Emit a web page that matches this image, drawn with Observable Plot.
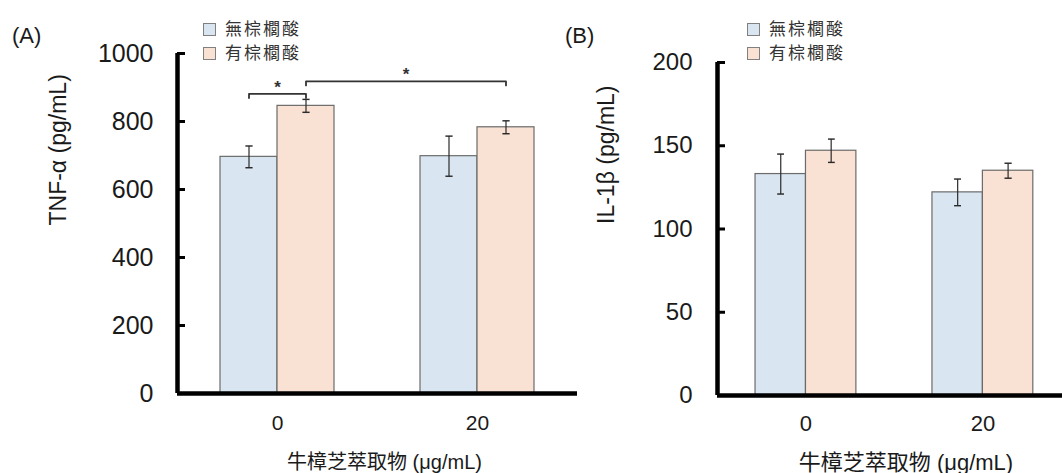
<!DOCTYPE html>
<html><head><meta charset="utf-8">
<script src="https://cdn.jsdelivr.net/npm/d3@7"></script>
<script src="https://cdn.jsdelivr.net/npm/@observablehq/plot@0.6"></script>
<style>
body{margin:0;background:#fff;overflow:hidden}
#wrap{position:relative;width:1062px;height:473px;font-family:"Liberation Sans",Arial,sans-serif;color:#1a1a1a}
.pnl{position:absolute;top:0}
.tag{position:absolute;font-size:22px;line-height:22px;color:#1a1a1a}
.leg{position:absolute;top:16px;font-family:"Noto Sans CJK TC",sans-serif;font-size:17px;letter-spacing:2px;color:#333;line-height:24px}
.sw{display:inline-block;width:11px;height:11px;border:1px solid #808080;margin-right:9px;vertical-align:-1px}
</style></head><body><div id="wrap"></div>
<script>
// ---- data ----
const doses = ["0", "20"];
const seriesNames = ["無棕櫚酸", "有棕櫚酸"];
const seriesColors = ["#dae5f2", "#f9e1d3"];
const xLabel = "牛樟芝萃取物 (μg/mL)";

const tnfNoPA = [696, 698];
const tnfNoPAErr = [32, 59];
const tnfPA = [846, 783];
const tnfPAErr = [19, 19];
const tnfTicks = [0, 200, 400, 600, 800, 1000];

const il1bNoPA = [133, 122];
const il1bNoPAErr = [12, 8];
const il1bPA = [147, 135];
const il1bPAErr = [7, 4.5];
const il1bTicks = [0, 50, 100, 150, 200];

// significance brackets for panel A: [dose index, series] endpoints, height
const sigFrom = [[0, 0], [0, 1]];
const sigTo = [[0, 1], [1, 1]];
const sigLevel = [881, 918];
const sigText = ["*", "*"];

const wrap = document.getElementById("wrap");
const BW = 0.285; // bar width in group units

function rowsFrom(a, ae, b, be) {
  const rows = [];
  doses.forEach((d, i) => {
    [[a, ae], [b, be]].forEach(([m, e], s) => {
      const x1 = s === 0 ? i - BW : i;
      const x2 = s === 0 ? i : i + BW;
      rows.push({i, dose: d, series: seriesNames[s], x1, x2, xc: (x1 + x2) / 2, v: m[i], e: e[i]});
    });
  });
  return rows;
}
const xc = (i, s) => (s === 0 ? i - BW / 2 : i + BW / 2);

function panel(o) {
  const rows = rowsFrom(...o.data);
  const marks = [
    Plot.rect(rows, {x1: "x1", x2: "x2", y1: () => 0, y2: "v", fill: "series", stroke: "#6b6b6b", strokeWidth: 1.2}),
    Plot.link(rows, {x1: "xc", x2: "xc", y1: d => d.v - d.e, y2: d => d.v + d.e, stroke: "#2a2a2a", strokeWidth: 1.2, markerStart: "tick", markerEnd: "tick"}),
    Plot.ruleY([0], {stroke: "#000", strokeWidth: 4.5}),
    Plot.ruleX([o.xDomain[0]], {stroke: "#000", strokeWidth: 4.5}),
    Plot.axisY(o.ticks, {tickSize: 8, dx: 8, tickPadding: o.tickPad, stroke: "#000", strokeWidth: 3, fontSize: o.yFont, tickFormat: d => String(d), label: null}),
    Plot.axisX([0, 1], {tickSize: 0, tickPadding: o.xPad, tickFormat: i => doses[i], fontSize: o.xFont, label: null}),
    Plot.text([o.yLabel], {text: d => d, frameAnchor: "left", rotate: -90, dx: o.yTitleDx, dy: o.yTitleDy, fontSize: 23, lineAnchor: "middle"}),
    Plot.text([xLabel], {text: d => d, frameAnchor: "bottom", dx: o.xTitleDx, dy: o.xTitleDy, fontSize: o.xTitleFont, lineAnchor: "middle", fontFamily: "'Liberation Sans', 'Noto Sans CJK TC', sans-serif"})
  ];
  if (o.sig) {
    const pts = [], stars = [];
    o.sig.from.forEach((f, k) => {
      const t = o.sig.to[k], y = o.sig.level[k], drop = 12;
      const xa = xc(...f), xb = xc(...t);
      pts.push({k, x: xa, y: y - drop}, {k, x: xa, y}, {k, x: xb, y}, {k, x: xb, y: y - drop});
      stars.push({x: (xa + xb) / 2, y, t: o.sig.text[k]});
    });
    marks.push(Plot.line(pts, {x: "x", y: "y", z: "k", stroke: "#333", strokeWidth: 1.8}));
    marks.push(Plot.text(stars, {x: "x", y: "y", text: "t", fontSize: 17, fontWeight: "bold", dy: -1, lineAnchor: "bottom", fill: "#333"}));
  }
  const svg = Plot.plot({
    width: o.width, height: 473,
    marginLeft: 177, marginRight: 0, marginTop: o.mt, marginBottom: o.mb,
    style: {background: "transparent", overflow: "visible", fontFamily: "'Liberation Sans', Arial, sans-serif", color: "#1a1a1a"},
    x: {type: "linear", domain: o.xDomain, axis: null},
    y: {domain: [0, o.ticks[o.ticks.length - 1]], axis: null},
    color: {domain: seriesNames, range: seriesColors},
    marks
  });
  svg.classList.add("pnl");
  svg.style.left = o.left + "px";
  wrap.appendChild(svg);
}

panel({
  data: [tnfNoPA, tnfNoPAErr, tnfPA, tnfPAErr], ticks: tnfTicks,
  left: 0, width: 577, mt: 53, mb: 80, xDomain: [-0.5, 1.5],
  tickPad: 24, yFont: 25, xPad: 22, xFont: 21,
  yLabel: "TNF-α (pg/mL)", yTitleDx: -119, yTitleDy: 2,
  xTitleDx: 7, xTitleDy: 69, xTitleFont: 20,
  sig: {from: sigFrom, to: sigTo, level: sigLevel, text: sigText}
});
panel({
  data: [il1bNoPA, il1bNoPAErr, il1bPA, il1bPAErr], ticks: il1bTicks,
  left: 540, width: 522, mt: 62, mb: 78, xDomain: [-0.5, 1.45],
  tickPad: 25, yFont: 24, xPad: 20, xFont: 22,
  yLabel: "IL-1β (pg/mL)", yTitleDx: -111, yTitleDy: -5,
  xTitleDx: 16, xTitleDy: 67, xTitleFont: 22
});

function addTag(txt, left) {
  const d = document.createElement("div");
  d.className = "tag"; d.textContent = txt;
  d.style.left = left + "px"; d.style.top = "25px";
  wrap.appendChild(d);
}
addTag("(A)", 12);
addTag("(B)", 565);

function addLegend(left) {
  const d = document.createElement("div");
  d.className = "leg"; d.style.left = left + "px";
  seriesNames.forEach((n, k) => {
    const r = document.createElement("div");
    const s = document.createElement("span");
    s.className = "sw"; s.style.background = seriesColors[k];
    r.appendChild(s); r.appendChild(document.createTextNode(n));
    d.appendChild(r);
  });
  wrap.appendChild(d);
}
addLegend(203);
addLegend(747);
</script></body></html>
